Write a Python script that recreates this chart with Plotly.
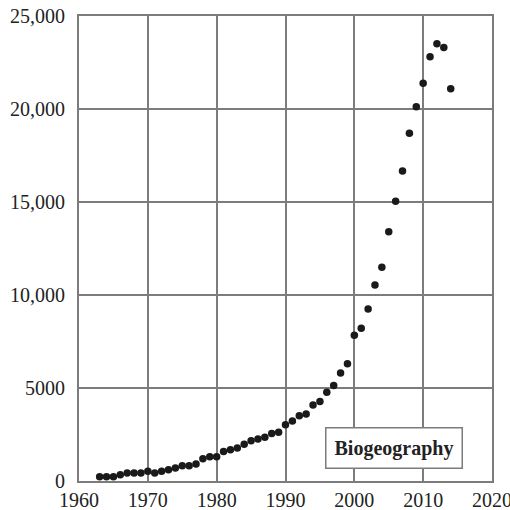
import plotly.graph_objects as go

# Yearly counts, 1963-2014
years = list(range(1963, 2015))
counts = [
    230, 230, 230, 340, 430, 430, 430, 520, 430, 520,
    610, 700, 820, 820, 910, 1200, 1310, 1310, 1580, 1680,
    1770, 1970, 2170, 2260, 2350, 2550, 2620, 3030, 3230, 3510,
    3600, 4090, 4280, 4770, 5140, 5810, 6300, 7830, 8210, 9250,
    10540, 11490, 13400, 15040, 16670, 18690, 20120, 21380, 22810, 23510,
    23300, 21090,
]

x_ticks = [1960, 1970, 1980, 1990, 2000, 2010, 2020]
y_ticks = [0, 5000, 10000, 15000, 20000, 25000]
y_tick_text = ["0", "5000", "10,000", "15,000", "20,000", "25,000"]
series_label = "Biogeography"

FONT = "Liberation Serif"
GRID = "#7c7c7c"

fig = go.Figure()
fig.add_trace(go.Scatter(
    x=years, y=counts, mode="markers",
    marker=dict(size=7.5, color="#1a1a1a", line=dict(width=0)),
    cliponaxis=False, showlegend=False,
))

axis_common = dict(
    showline=True, mirror=True, linecolor=GRID, linewidth=2,
    showgrid=True, gridcolor=GRID, gridwidth=2,
    ticks="", zeroline=False, automargin=False,
    ticklabeloverflow="allow",
    tickfont=dict(family=FONT, size=20, color="#222"),
)

fig.update_xaxes(range=[1960, 2020], tickvals=x_ticks, ticklabelstandoff=0, **axis_common)
fig.update_yaxes(range=[0, 25000], tickvals=y_ticks, ticktext=y_tick_text,
                 ticklabelstandoff=8, **axis_common)

fig.add_annotation(
    x=2005.8, y=1800, xref="x", yref="y",
    text="<b>" + series_label + "</b>", showarrow=False,
    font=dict(family=FONT, size=20, color="#222"),
    bgcolor="white", bordercolor=GRID, borderwidth=1.5, borderpad=8,
)

fig.update_layout(
    width=510, height=510,
    margin=dict(l=79, r=18, t=16, b=29),
    plot_bgcolor="white", paper_bgcolor="white",
)

fig.write_html("out.html", config={"displayModeBar": False})
